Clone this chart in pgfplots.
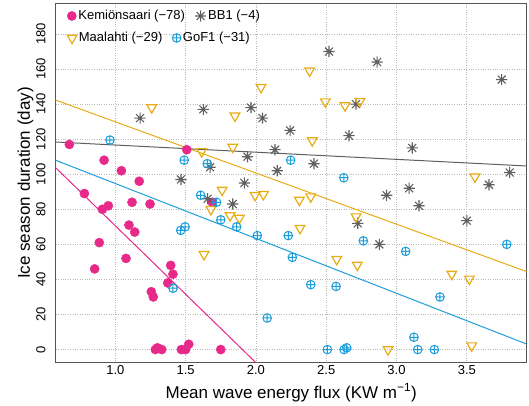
\documentclass[border=0pt]{standalone}
\usepackage{fontspec}
\setmainfont{Liberation Sans}
\usepackage{pgfplots}
\pgfplotsset{compat=1.18}
\definecolor{cmag}{RGB}{231,41,138}
\definecolor{cgray}{RGB}{95,95,95}
\definecolor{cyel}{RGB}{232,172,20}
\definecolor{cblue}{RGB}{28,158,218}
\definecolor{cgrid}{RGB}{185,185,185}
\definecolor{cframe}{RGB}{85,85,85}

\pgfdeclareplotmark{rstar}{%
  \pgfpathmoveto{\pgfqpoint{-\pgfplotmarksize}{0pt}}%
  \pgfpathlineto{\pgfqpoint{\pgfplotmarksize}{0pt}}%
  \pgfpathmoveto{\pgfqpoint{0pt}{-\pgfplotmarksize}}%
  \pgfpathlineto{\pgfqpoint{0pt}{\pgfplotmarksize}}%
  \pgfpathmoveto{\pgfqpoint{-0.7071\pgfplotmarksize}{-0.7071\pgfplotmarksize}}%
  \pgfpathlineto{\pgfqpoint{0.7071\pgfplotmarksize}{0.7071\pgfplotmarksize}}%
  \pgfpathmoveto{\pgfqpoint{-0.7071\pgfplotmarksize}{0.7071\pgfplotmarksize}}%
  \pgfpathlineto{\pgfqpoint{0.7071\pgfplotmarksize}{-0.7071\pgfplotmarksize}}%
  \pgfusepathqstroke}

\newcommand{\lf}{\fontsize{13}{15}\selectfont}

\pgfplotsset{
  kem/.style={only marks, mark=*, mark size=4.6pt, color=cmag, mark options={draw=cmag, fill=cmag}},
  bb/.style={only marks, mark=rstar, mark size=5.6pt, color=cgray, mark options={line width=1.1pt}},
  maa/.style={only marks, mark=triangle, mark size=5.6pt, color=cyel, mark options={rotate=180, line width=1.2pt}},
  gof/.style={only marks, mark=oplus, mark size=4.3pt, color=cblue, mark options={line width=1pt}},
  base/.style={
    at={(0,0)}, anchor=south west,
    scale only axis, width=471pt, height=359.4pt,
    xmin=0.576, xmax=3.926, ymin=-7.5, ymax=197.5,
  },
  legax/.style={base, hide axis,
    legend image code/.code={\draw[##1] plot coordinates {(0pt,0pt)};},
    legend style={draw=none, fill=none, inner sep=0pt, font=\lf,
      nodes={font=\lf},
      legend columns=-1, legend cell align=left,
      /tikz/every even column/.append style={column sep=8pt}},
  },
}

\begin{document}
\begin{tikzpicture}
\useasboundingbox (-55.7pt,-42.3pt) rectangle (473.3pt,362.7pt);
\begin{axis}[base,
  axis line style={cframe, line width=0.9pt},
  xtick={1,1.5,2,2.5,3,3.5},
  ytick={0,20,40,60,80,100,120,140,160,180},
  major tick length=0pt,
  grid=major, major grid style={cgrid, dotted, line width=0.8pt},
  /pgf/number format/assume math mode=true,
  xticklabel style={/pgf/number format/fixed, /pgf/number format/fixed zerofill, /pgf/number format/precision=1,
    font=\fontsize{13}{15}\selectfont, anchor=north, inner sep=3pt},
  yticklabel style={font=\fontsize{13}{15}\selectfont, rotate=90, anchor=south, inner sep=10pt},
  xlabel={Mean wave energy flux (KW m\textsuperscript{−1})},
  ylabel={Ice season duration (day)},
  xlabel style={font=\fontsize{17}{19}\selectfont, at={(axis description cs:0.5,-0.0982)}, anchor=base},
  ylabel style={font=\fontsize{17}{19}\selectfont, at={(axis description cs:-0.0546,0.5)}, anchor=base},
  clip=true,
]
% Kemionsaari
\addplot[kem, forget plot] coordinates {
(0.673,117) (0.78,89) (0.92,108) (1.043,102) (1.17,96) (1.508,114)
(0.908,80) (0.95,82) (1.119,84) (1.247,83) (1.097,71) (1.138,67)
(0.886,61) (1.076,52) (0.853,46) (1.256,33) (1.27,30) (1.394,48)
(1.41,43) (1.373,38) (1.285,0) (1.30,1) (1.33,0) (1.47,0) (1.50,0)
(1.522,3) (1.75,0) (1.69,84)
};
% BB1
\addplot[bb, forget plot] coordinates {
(1.176,132) (1.626,137) (1.965,138) (2.047,132) (1.94,110) (2.136,114)
(1.467,97) (1.674,104) (1.918,95) (2.152,102) (1.657,86) (1.835,83)
(2.52,170) (2.862,164) (2.712,140) (2.243,125) (2.662,122) (2.413,106)
(3.112,115) (3.748,154) (3.805,101) (3.658,94) (3.09,92) (2.93,88)
(3.16,82) (2.724,72) (2.878,60) (3.5,73.5)
};
% Maalahti
\addplot[maa, forget plot] coordinates {
(1.259,138) (1.614,113) (1.835,115.5) (1.851,133.3) (2.036,149.6)
(1.76,91) (1.68,80) (1.994,88) (2.053,88.5) (1.816,76.4) (1.882,75)
(1.631,54.3) (2.382,159) (2.494,141.4) (2.634,139.2) (2.74,141.6)
(2.401,119.2) (2.309,85.3) (2.39,87.2) (2.712,75.8) (2.314,69.2)
(2.575,51.5) (2.721,48.2) (2.94,0) (3.558,98.5) (3.393,43.1)
(3.518,40.3) (3.535,2.2)
};
% GoF1
\addplot[gof, forget plot] coordinates {
(0.962,119.5) (1.49,108) (1.654,106) (1.607,88) (1.72,84) (1.75,74)
(1.863,70) (2.01,65) (1.465,68) (1.496,70) (1.41,35) (2.247,108)
(2.625,98) (2.23,65) (2.764,62) (2.259,52.6) (2.39,37) (2.57,36)
(2.08,18) (2.508,0) (2.627,0) (2.646,1) (3.784,60) (3.065,56)
(3.309,30) (3.124,7) (3.151,0) (3.269,0)
};
% regression lines
\addplot[cmag, line width=1pt, forget plot] coordinates {(0.5,109.65) (2.2,-23.1)};
\addplot[cblue, line width=1pt, forget plot] coordinates {(0.5,110.35) (4.0,0.8)};
\addplot[cyel, line width=1pt, forget plot] coordinates {(0.5,144.5) (4.0,42.3)};
\addplot[cgray, line width=1pt, forget plot] coordinates {(0.5,118.7) (4.0,104.4)};
\end{axis}
\begin{axis}[legax, legend style={at={(axis description cs:0.024,0.9647)}, anchor=west}]
\addlegendimage{kem}
\addlegendentry{\lf Kemiönsaari (−78)}
\addlegendimage{bb}
\addlegendentry{\lf BB1 (−4)}
\end{axis}
\begin{axis}[legax, legend style={at={(axis description cs:0.024,0.9035)}, anchor=west}]
\addlegendimage{maa}
\addlegendentry{\lf Maalahti (−29)}
\addlegendimage{gof}
\addlegendentry{\lf GoF1 (−31)}
\end{axis}
\end{tikzpicture}
\end{document}
